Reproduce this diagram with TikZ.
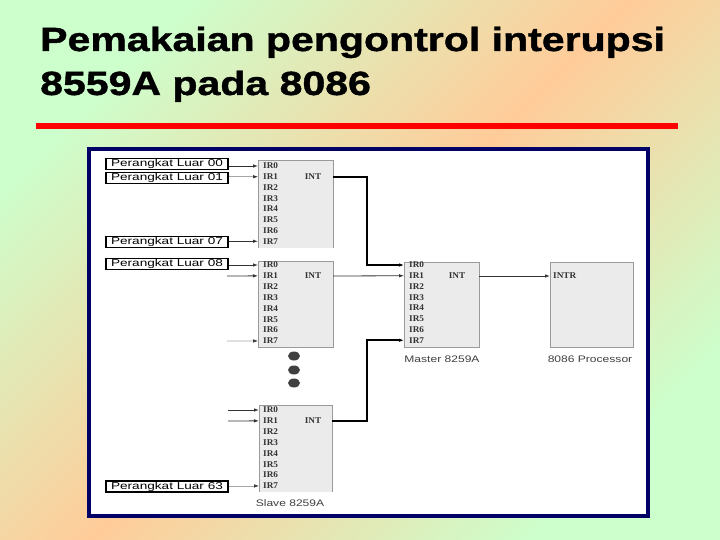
\documentclass[tikz,border=0pt]{standalone}
\usepackage{fontspec}
\usetikzlibrary{arrows.meta}
\newfontfamily\titlefont{Liberation Sans Bold}[FakeStretch=1.225, FakeBold=1.2]
\newfontfamily\boxfont{Liberation Sans}[FakeStretch=1.36]
\newfontfamily\capfont{Liberation Sans}[FakeStretch=1.27]
\newfontfamily\pinfont{Liberation Serif Bold}[FakeStretch=1.05]
\definecolor{bggreen}{HTML}{CCFFCC}
\definecolor{bgorange}{HTML}{FFCC99}
\definecolor{framenavy}{HTML}{000066}
\definecolor{titlered}{HTML}{FF0000}
\definecolor{chipgray}{HTML}{EBEBEB}
\definecolor{chipedge}{HTML}{9A9A9A}
\begin{document}
\begin{tikzpicture}[x=1pt,y=-1pt,
  devbox/.style={draw=black, line width=1.6pt, fill=white, minimum width=122pt, minimum height=11pt, text height=7pt, text depth=1.5pt, inner sep=0pt, font=\boxfont\fontsize{10}{10}\selectfont, text=black},
  chipbody/.style={fill=chipgray, inner sep=0pt, anchor=north west},
  chipline/.style={draw=chipedge, line width=0.8pt},
  pinlbl/.style={font=\pinfont\fontsize{8.8}{8.8}\selectfont, text=black!80, inner sep=0pt, anchor=west},
  intlbl/.style={font=\pinfont\fontsize{8.8}{8.8}\selectfont, text=black!80, inner sep=0pt},
  caption/.style={font=\capfont\fontsize{9.5}{9.5}\selectfont, text=black!75, inner sep=0pt},
  darkln/.style={draw=black!80, line width=0.8pt, -{Latex[length=5pt,width=3.5pt]}},
  lightln/.style={draw=black!35, line width=0.6pt, -{Latex[length=5pt,width=3.5pt,color=black!80,fill=black!80]}},
  thickln/.style={draw=black, line width=1.7pt, -{Latex[length=5pt,width=3.5pt]}},
  dotfill/.style={fill=black!75}
]
\useasboundingbox (0,0) rectangle (720,540);
% background
\shade[top color=bggreen, bottom color=bggreen, middle color=bgorange, shading angle=45] (0,0) rectangle (720,540);
% title
\node[anchor=base west, inner sep=0pt, font=\titlefont\fontsize{33.5}{33.5}\selectfont] (t1) at (40,51) {Pemakaian pengontrol interupsi};
\node[anchor=base west, inner sep=0pt, font=\titlefont\fontsize{33.5}{33.5}\selectfont] (t2) at (40,95) {8559A pada 8086};
\coordinate (rl) at (36,126);
\coordinate (rr) at (678,126);
\draw[titlered, line width=6pt] (rl) -- (rr);
% frame
\draw[framenavy, line width=4pt, fill=white] (89,149) rectangle (647.5,515.5);

% chips
\node[chipbody, minimum width=75pt, minimum height=88pt] (s1) at (258,160) {};
\draw[chipline] (s1.south west) -- (s1.north west) -- (s1.north east) -- (s1.south east);
\node[chipbody, minimum width=75pt, minimum height=86pt] (s2) at (258,261) {};
\draw[chipline] (s2.south west) rectangle (s2.north east);
\node[chipbody, minimum width=73pt, minimum height=87pt] (s3) at (259,405) {};
\draw[chipline] (s3.south west) -- (s3.north west) -- (s3.north east) -- (s3.south east);
\node[chipbody, minimum width=75pt, minimum height=85pt] (m) at (404,262) {};
\draw[chipline] (m.south west) rectangle (m.north east);
\node[chipbody, minimum width=83pt, minimum height=85pt] (p) at (550,262) {};
\draw[chipline] (p.south west) rectangle (p.north east);

% pins
\foreach \i in {0,...,7} {
  \node[pinlbl] (s1p\i) at (263,{166+10.75*\i}) {IR\i};
  \coordinate (s1in\i) at (258,{166+10.75*\i});
  \node[pinlbl] (s2p\i) at (263,{265+10.85*\i}) {IR\i};
  \coordinate (s2in\i) at (258,{265+10.85*\i});
  \node[pinlbl] (s3p\i) at (263,{410+10.85*\i}) {IR\i};
  \coordinate (s3in\i) at (259,{410+10.85*\i});
  \node[pinlbl] (mp\i) at (409,{265+10.75*\i}) {IR\i};
  \coordinate (min\i) at (404,{265+10.75*\i});
}
\node[intlbl] (s1i) at (313,177) {INT};
\node[intlbl] (s2i) at (313,276) {INT};
\node[intlbl] (s3i) at (313,421) {INT};
\node[intlbl] (mi) at (457,276) {INT};
\node[pinlbl] (pi) at (553,276) {INTR};
\coordinate (s1int) at (333,177);
\coordinate (s2int) at (333,276);
\coordinate (s3int) at (332,421);
\coordinate (mint) at (479,276);
\coordinate (pin) at (550,276);
\coordinate (j1) at (367,177);
\coordinate (j3) at (367,421);

% devices
\node[devbox] (b00) at (167,164) {Perangkat Luar 00};
\node[devbox] (b01) at (167,178) {Perangkat Luar 01};
\node[devbox] (b07) at (167,242) {Perangkat Luar 07};
\node[devbox] (b08) at (167,264) {Perangkat Luar 08};
\node[devbox] (b63) at (167,486.5) {Perangkat Luar 63};
\coordinate (f21) at (227,276);
\coordinate (f27) at (227,341);
\coordinate (f30) at (228,410);
\coordinate (f31) at (228,421);

% connectors
\draw[darkln] (b00.east |- s1in0) -- (s1in0);
\draw[lightln] (b01.east |- s1in1) -- (s1in1);
\draw[darkln] (b07.east |- s1in7) -- (s1in7);
\draw[darkln] (b08.east |- s2in0) -- (s2in0);
\draw[darkln] (f21) -- (s2in1);
\draw[lightln] (f27) -- (s2in7);
\draw[darkln] (f30) -- (s3in0);
\draw[darkln] (f31) -- (s3in1);
\draw[lightln] (b63.east |- s3in7) -- (s3in7);
\draw[thickln] (s1int) -- (j1) |- (min0);
\draw[darkln] (s2int) -- (min1);
\draw[thickln] (s3int) -- (j3) |- (min7);
\draw[darkln] (mint) -- (pin);

% dots
\fill[dotfill] (294,356) ellipse (6 and 4.5);
\fill[dotfill] (294,370) ellipse (6 and 4.5);
\fill[dotfill] (294,383) ellipse (6 and 4.5);

% captions
\node[caption] (cs) at (290,503) {Slave 8259A};
\node[caption] (cm) at (442,359) {Master 8259A};
\node[caption] (cp) at (590,359) {8086 Processor};
\end{tikzpicture}
\end{document}
